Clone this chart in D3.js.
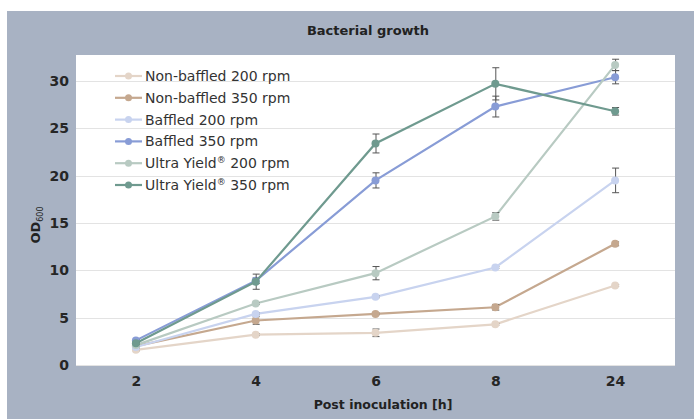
<!DOCTYPE html>
<html>
<head>
<meta charset="utf-8">
<script src="https://cdn.jsdelivr.net/npm/d3@7"></script>
<style>
  body { margin: 0; background: #fff; }
  svg { display: block; font-family: "DejaVu Sans", sans-serif; }
</style>
</head>
<body>
<svg id="chart" width="694" height="419"></svg>
<script>
// --- Data ---
const hours = ['2', '4', '6', '8', '24'];
const seriesNames = [
  'Non-baffled 200 rpm', 'Non-baffled 350 rpm',
  'Baffled 200 rpm', 'Baffled 350 rpm',
  'Ultra Yield® 200 rpm', 'Ultra Yield® 350 rpm'
];
const nonBaffled200 = [1.6, 3.2, 3.4, 4.3, 8.4];
const nonBaffled350 = [2.0, 4.7, 5.4, 6.1, 12.8];
const baffled200 = [1.9, 5.4, 7.2, 10.3, 19.5];
const baffled350 = [2.6, 8.9, 19.5, 27.3, 30.4];
const ultra200 = [2.1, 6.5, 9.7, 15.7, 31.7];
const ultra350 = [2.3, 8.8, 23.4, 29.7, 26.8];
// standard deviations
const nonBaffled200Err = [0.1, 0.1, 0.4, 0.1, 0.1];
const nonBaffled350Err = [0.1, 0.4, 0.1, 0.3, 0.2];
const baffled200Err = [0.1, 0.1, 0.1, 0.1, 1.3];
const baffled350Err = [0.1, 0.3, 0.8, 1.1, 0.7];
const ultra200Err = [0.1, 0.1, 0.7, 0.4, 0.6];
const ultra350Err = [0.1, 0.8, 1.0, 1.7, 0.4];
const yTicks = [0, 5, 10, 15, 20, 25, 30];
const colors = ['#e4d5c8', '#c5a88f', '#c8d3ef', '#889cd6', '#b8cac2', '#6f9a8f'];

const series = [nonBaffled200, nonBaffled350, baffled200, baffled350, ultra200, ultra350];
const errs = [nonBaffled200Err, nonBaffled350Err, baffled200Err, baffled350Err, ultra200Err, ultra350Err];

// --- Layout ---
const svg = d3.select('#chart');
const plot = { left: 76, top: 55, right: 675, bottom: 365 };

svg.append('rect')
  .attr('x', 7).attr('y', 11).attr('width', 687).attr('height', 408)
  .attr('fill', '#a8b2c3');

svg.append('rect')
  .attr('x', plot.left).attr('y', plot.top)
  .attr('width', plot.right - plot.left).attr('height', plot.bottom - plot.top + 1)
  .attr('fill', '#fff');

const x = d3.scalePoint().domain(hours).range([plot.left, plot.right]).padding(0.5);
const y = d3.scaleLinear().domain([0, 30]).range([plot.bottom, 81]);

// gridlines
svg.append('g')
  .selectAll('line')
  .data(yTicks)
  .enter().append('line')
  .attr('x1', plot.left).attr('x2', plot.right)
  .attr('y1', d => Math.round(y(d)) + 0.5).attr('y2', d => Math.round(y(d)) + 0.5)
  .attr('stroke', '#e3e3e3').attr('stroke-width', 1);

// y axis
const yAxis = svg.append('g')
  .attr('transform', `translate(${plot.left - 7},0)`)
  .call(d3.axisLeft(y).tickValues(yTicks).tickSize(0).tickPadding(0));
yAxis.select('.domain').remove();
yAxis.selectAll('text')
  .attr('font-size', 14).attr('font-weight', 700).attr('fill', '#262626')
  .attr('font-family', '"DejaVu Sans", sans-serif');

// x axis
const xAxis = svg.append('g')
  .attr('transform', `translate(0,${plot.bottom + 11})`)
  .call(d3.axisBottom(x).tickSize(0).tickPadding(0));
xAxis.select('.domain').remove();
xAxis.selectAll('text')
  .attr('font-size', 14).attr('font-weight', 700).attr('fill', '#262626')
  .attr('font-family', '"DejaVu Sans", sans-serif');

// titles
svg.append('text')
  .attr('x', 368).attr('y', 35)
  .attr('text-anchor', 'middle')
  .attr('font-size', 13).attr('font-weight', 700).attr('fill', '#222')
  .text('Bacterial growth');

svg.append('text')
  .attr('x', 383).attr('y', 409)
  .attr('text-anchor', 'middle')
  .attr('font-size', 12.5).attr('font-weight', 700).attr('fill', '#222')
  .text('Post inoculation [h]');

const yTitle = svg.append('text')
  .attr('transform', 'translate(40,225) rotate(-90)')
  .attr('text-anchor', 'middle')
  .attr('font-size', 13).attr('font-weight', 700).attr('fill', '#222');
yTitle.append('tspan').text('OD');
yTitle.append('tspan').attr('font-size', 8).attr('font-weight', 400).attr('dy', 3).text('600');

// lines, error bars, markers
const line = d3.line().x((d, i) => x(hours[i])).y(d => y(d));

series.forEach((vals, s) => {
  const g = svg.append('g');
  g.append('path')
    .datum(vals)
    .attr('d', line)
    .attr('fill', 'none')
    .attr('stroke', colors[s])
    .attr('stroke-width', 2.2);

  const eb = g.selectAll('.err')
    .data(vals)
    .enter().append('g');
  eb.append('line')
    .attr('x1', (d, i) => x(hours[i]) + 0.5).attr('x2', (d, i) => x(hours[i]) + 0.5)
    .attr('y1', (d, i) => y(d + errs[s][i])).attr('y2', (d, i) => y(d - errs[s][i]))
    .attr('stroke', '#555').attr('stroke-width', 1);
  [1, -1].forEach(sign => {
    eb.append('line')
      .attr('x1', (d, i) => x(hours[i]) - 3).attr('x2', (d, i) => x(hours[i]) + 4)
      .attr('y1', (d, i) => y(d + sign * errs[s][i])).attr('y2', (d, i) => y(d + sign * errs[s][i]))
      .attr('stroke', '#555').attr('stroke-width', 1);
  });

  g.selectAll('circle')
    .data(vals)
    .enter().append('circle')
    .attr('cx', (d, i) => x(hours[i]))
    .attr('cy', d => y(d))
    .attr('r', 4)
    .attr('fill', colors[s]);
});

// legend
const legend = svg.append('g').attr('transform', 'translate(115,76)');
seriesNames.forEach((name, i) => {
  const row = legend.append('g').attr('transform', `translate(0,${i * 21.8})`);
  row.append('line')
    .attr('x1', 0).attr('x2', 27).attr('y1', 0).attr('y2', 0)
    .attr('stroke', colors[i]).attr('stroke-width', 2.2);
  row.append('circle').attr('cx', 13.5).attr('cy', 0).attr('r', 3.5).attr('fill', colors[i]);
  const t = row.append('text')
    .attr('x', 30).attr('y', 5)
    .attr('font-size', 14).attr('fill', '#333');
  const parts = name.split('®');
  t.append('tspan').text(parts[0]);
  if (parts.length > 1) {
    t.append('tspan').attr('font-size', 9).attr('dy', -5).text('®');
    t.append('tspan').attr('dy', 5).text(parts[1]);
  }
});
</script>
</body>
</html>
